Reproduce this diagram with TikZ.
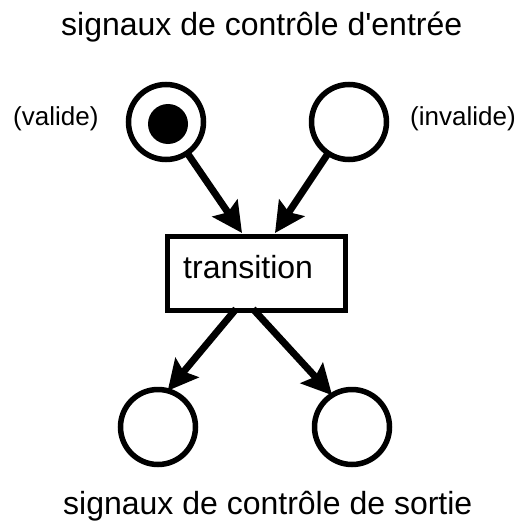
\documentclass[tikz,border=0pt]{standalone}
\usepackage{fontspec}
\setmainfont{Liberation Sans}
\usetikzlibrary{arrows.meta}
\begin{document}
\begin{tikzpicture}[x=1pt,y=-1pt,
  place/.style={circle,draw,line width=5.5pt,minimum size=75pt,inner sep=0pt,outer sep=0pt},
  trans/.style={draw,line width=5pt,minimum width=178pt,minimum height=74pt,inner sep=0pt,outer sep=0pt},
  arc/.style={line width=7pt,-{Stealth[length=30pt,width=30pt,inset=5pt]}},
  lbl/.style={inner sep=0pt,anchor=base west}]
\useasboundingbox (0,0) rectangle (519,524);
\node[lbl,font=\fontsize{32}{36}\selectfont] (top) at (61,36) {signaux de contrôle d\textquotesingle entrée};
\node[lbl,font=\fontsize{32}{36}\selectfont] (bot) at (63,514) {signaux de contrôle de sortie};
\node[lbl,font=\fontsize{26}{30}\selectfont] (val) at (13,125) {(valide)};
\node[lbl,font=\fontsize{26}{30}\selectfont] (inv) at (410,125) {(invalide)};
\node[place] (c1) at (166,122) {};
\node[circle,fill,minimum size=40pt,inner sep=0pt] (tok) at (168,124) {};
\node[place] (c2) at (349,122) {};
\node[place] (c3) at (158,427) {};
\node[place] (c4) at (352,427) {};
\node[trans] (t) at (256,273) {};
\node[lbl,font=\fontsize{32}{36}\selectfont] (tl) at (183,278) {transition};
\coordinate (i1) at (242,233);
\coordinate (i2) at (275,233);
\coordinate (o1) at (236,309);
\coordinate (o2) at (253,309);
\draw[arc] (c1) -- (i1);
\draw[arc] (c2) -- (i2);
\draw[arc] (o1) -- (c3.75);
\draw[arc] (o2) -- (c4.122);
\end{tikzpicture}
\end{document}
